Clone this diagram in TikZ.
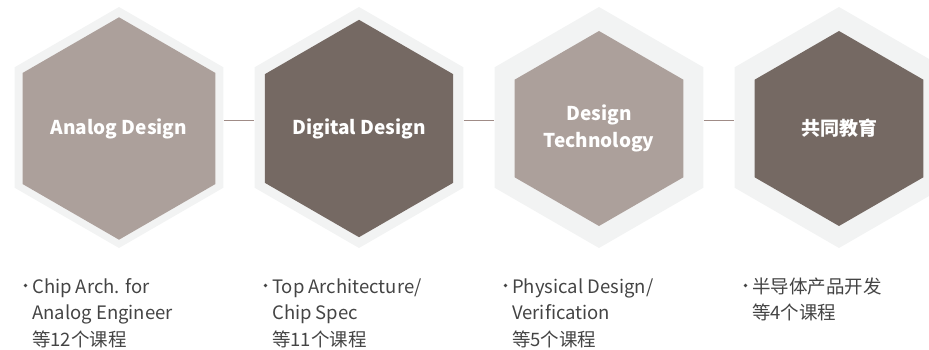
\documentclass[tikz,border=0pt]{standalone}
\usepackage{fontspec}
\setmainfont{Noto Sans CJK SC}
\usetikzlibrary{shapes.geometric}
\definecolor{hexbg}{HTML}{F2F3F3}
\definecolor{hexlight}{HTML}{ACA09B}
\definecolor{hexdark}{HTML}{756963}
\definecolor{linkc}{HTML}{A08C87}
\definecolor{txtc}{HTML}{444444}

\begin{document}
\begin{tikzpicture}[x=1pt,y=-1pt]
\tikzset{Hout/.style={regular polygon,regular polygon sides=6,shape border rotate=30,minimum size=241pt,inner sep=0pt,fill=hexbg}}
\tikzset{Hin/.style={regular polygon,regular polygon sides=6,shape border rotate=30,minimum size=195pt,inner sep=0pt,text=white,align=center,font=\fontsize{19}{27}\selectfont\bfseries}}
\tikzset{Item/.style={anchor=base west,align=left,inner sep=0pt,text=txtc,font=\fontsize{18.5}{26.5}\selectfont}}
\tikzset{Dot/.style={circle,inner sep=0pt,minimum size=3.6pt,fill=txtc}}
\tikzset{Link/.style={draw=linkc,line width=0.8pt}}

  \useasboundingbox (0,0) rectangle (929,350);

  \node[Hout] (h1o) at (119,127.5) {};
  \node[Hout] (h2o) at (359,127.5) {};
  \node[Hout] (h3o) at (599,127.5) {};
  \node[Hout] (h4o) at (839,127.5) {};

  \node[Hin,fill=hexlight] (h1) at (119,128.5) {Analog Design};
  \node[Hin,fill=hexdark]  (h2) at (359,128.5) {Digital Design};
  \node[Hin,fill=hexlight] (h3) at (599,128.5) {Design\\Technology};
  \node[Hin,fill=hexdark]  (h4) at (839,128.5) {共同教育};

  \draw[Link] ([yshift=7.5pt]h1o.east) -- ([yshift=7.5pt]h2o.west);
  \draw[Link] ([yshift=7.5pt]h2o.east) -- ([yshift=7.5pt]h3o.west);
  \draw[Link] ([yshift=7.5pt]h3o.east) -- ([yshift=7.5pt]h4o.west);

  \node[Dot] (d1) at (25.5,285.5) {};
  \node[Dot] (d2) at (265.5,285.5) {};
  \node[Dot] (d3) at (505.5,285.5) {};
  \node[Dot] (d4) at (745.5,285.5) {};

  % anchor is the baseline of the last line
  \node[Item] (t1) at (32,346)  {Chip Arch. for\\Analog Engineer\\等12个课程};
  \node[Item] (t2) at (272,346) {Top Architecture/\\Chip Spec\\等11个课程};
  \node[Item] (t3) at (512,346) {Physical Design/\\Verification\\等5个课程};
  \node[Item] (t4) at (752,319.5) {半导体产品开发\\等4个课程};
\end{tikzpicture}
\end{document}
